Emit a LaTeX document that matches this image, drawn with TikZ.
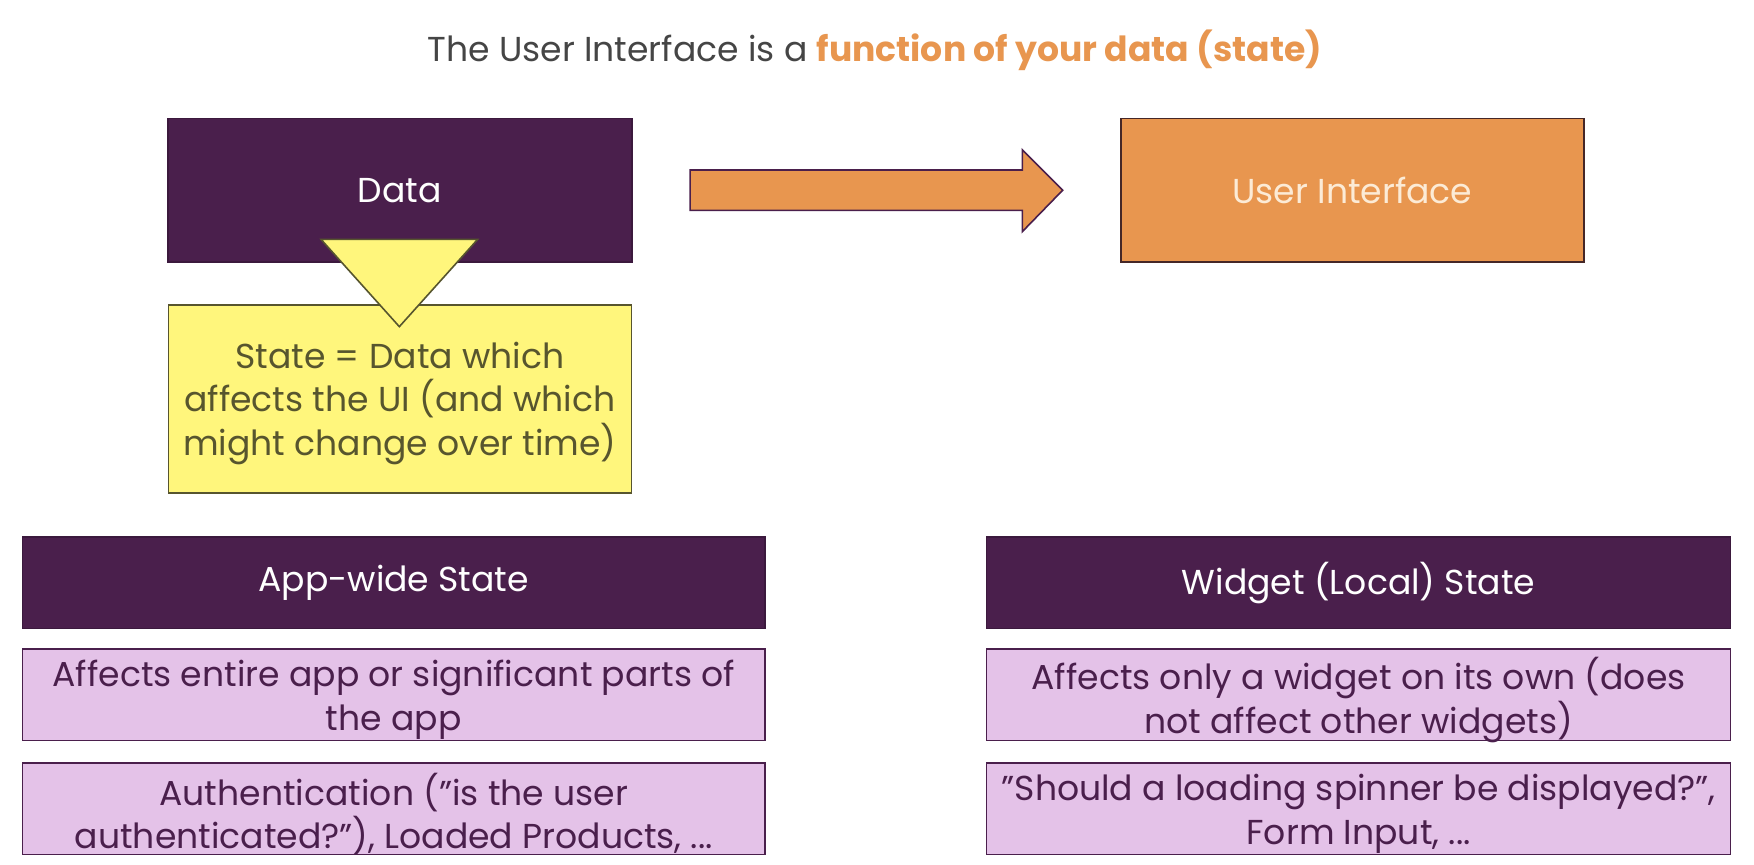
\documentclass[tikz,border=0pt]{standalone}
\usepackage{fontspec}
\setmainfont{Poppins}
\definecolor{dpurple}{HTML}{4A1F4C}
\definecolor{lpurple}{HTML}{E4C2E8}
\definecolor{orng}{HTML}{E8964F}
\definecolor{ylw}{HTML}{FFF67C}
\definecolor{olive}{HTML}{57552E}
\definecolor{cream}{HTML}{FCEBD6}
\definecolor{titlegray}{HTML}{454545}
\def\pxu{0.5593pt}
\begin{document}
\begin{tikzpicture}[x=0.5593pt,y=-0.5593pt,
  txt/.style={font=\fontsize{17.3}{21.8}\selectfont},
  darkbox/.style={txt, draw=dpurple!80!black, fill=dpurple, text=white, line width=0.8pt,
    minimum width=#1*\pxu, minimum height=82*\pxu, inner sep=0pt},
  lightbox/.style={draw=dpurple, fill=lpurple, line width=0.8pt,
    minimum width=#1*\pxu, minimum height=82*\pxu, inner sep=0pt},
  bodytxt/.style={txt, text=dpurple, align=center, inner sep=0pt}]
\useasboundingbox (0,0) rectangle (1568,772.4);
\fill[white] (0,0) rectangle (1568,772.4);

\node[txt, text=titlegray] (title) at (782,45)
  {The User Interface is a \textcolor{orng}{\textbf{function of your data (state)}}};

\node[darkbox=415, minimum height=128*\pxu] (data) at (357.5,170) {Data};
\node[draw=olive, fill=ylw, line width=0.8pt, minimum width=414*\pxu,
  minimum height=168*\pxu, inner sep=0pt] (state) at (357.5,356.5) {};
\node[txt, text=olive, align=center, inner sep=0pt] (statetxt) at ([yshift=-2.2pt]state.center)
  {State = Data which\\affects the UI (and which\\might change over time)};
\draw[olive, fill=ylw, line width=0.8pt, line join=miter] (287,214) -- (427,214) -- (357,292) -- cycle;

\draw[dpurple, fill=orng, line width=0.8pt]
  (617,152) -- (914,152) -- (914,134) -- (950,170) -- (914,207) -- (914,188) -- (617,188) -- cycle;

\node[txt, draw=dpurple!60!orng!50!black, fill=orng, text=cream, line width=0.8pt, minimum width=414*\pxu,
  minimum height=128*\pxu, inner sep=0pt] (ui) at (1209,170) {User Interface};

\node[darkbox=664] (app) at (352,521) {App-wide State};
\node[lightbox=664] (app1) at (352,621) {};
\node[bodytxt] (app1t) at ([yshift=-2.6pt]app1.center) {Affects entire app or significant parts of\\the app};
\node[lightbox=664] (app2) at (352,723) {};
\node[bodytxt] (app2t) at ([yshift=-2.6pt]app2.center) {Authentication (”is the user\\authenticated?”), Loaded Products, ...};

\node[darkbox=665] (wid) at (1214.5,521) {Widget (Local) State};
\node[lightbox=665] (wid1) at (1214.5,621) {};
\node[bodytxt] (wid1t) at ([yshift=-2.6pt]wid1.center) {Affects only a widget on its own (does\\not affect other widgets)};
\node[lightbox=665] (wid2) at (1214.5,723) {};
\node[bodytxt] (wid2t) at ([yshift=-2.6pt]wid2.center) {”Should a loading spinner be displayed?”,\\Form Input, ...};
\end{tikzpicture}
\end{document}
